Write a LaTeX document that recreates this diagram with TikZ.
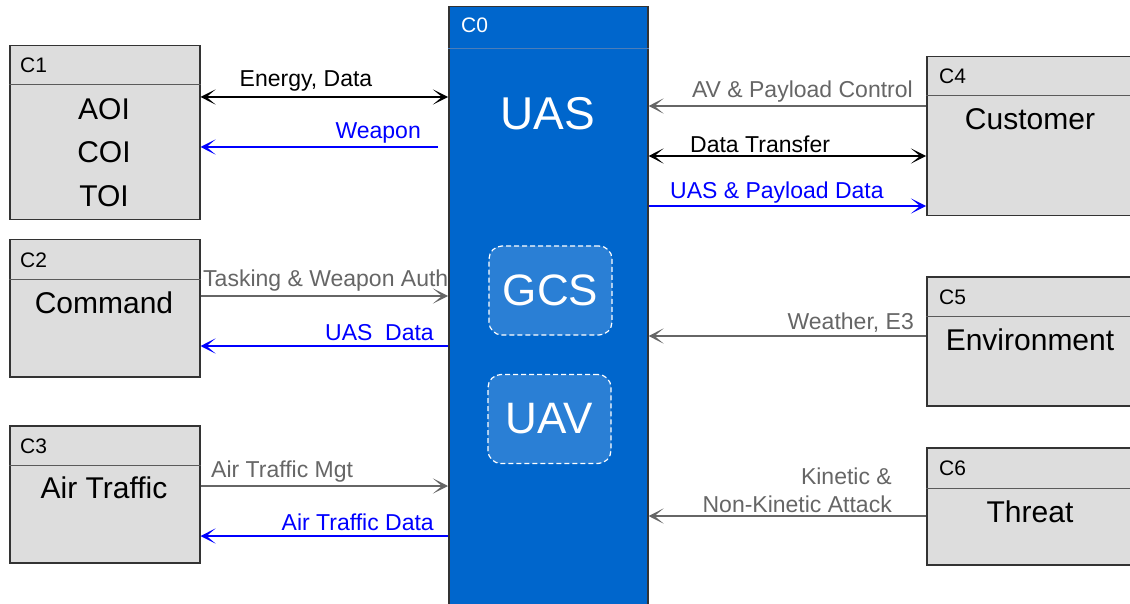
\documentclass[tikz,border=0pt]{standalone}
\usepackage{fontspec}
\setmainfont{Liberation Sans}
\usetikzlibrary{arrows.meta,calc}
\definecolor{uasblue}{RGB}{0,102,204}
\definecolor{gcsblue}{RGB}{42,127,213}
\definecolor{boxgray}{RGB}{221,221,221}
\definecolor{edgegray}{RGB}{51,51,51}
\definecolor{hdrgray}{RGB}{90,90,90}
\definecolor{hdrblue}{RGB}{75,125,185}
\definecolor{flowgray}{RGB}{102,102,102}
\definecolor{flowblue}{RGB}{0,0,255}
\begin{document}
\begin{tikzpicture}[x=1pt,y=-1pt,
  ctx/.style={draw=edgegray, fill=boxgray, line width=1.5pt, rectangle, inner sep=0pt, anchor=north west},
  hdr/.style={draw=hdrgray, line width=1pt},
  cid/.style={font=\fontsize{21}{21}\selectfont, inner sep=0pt, anchor=base west},
  cname/.style={font=\fontsize{30}{30}\selectfont, inner sep=0pt, anchor=base},
  subsys/.style={draw=white, dash pattern=on 5pt off 3pt, fill=gcsblue, rounded corners=13pt,
    line width=1.2pt, minimum width=123pt, minimum height=89pt, text=white,
    font=\fontsize{44}{44}\selectfont, inner sep=0pt},
  flowlbl/.style={font=\fontsize{23}{23}\selectfont, inner sep=0pt},
  flowtip/.tip={Stealth[length=15pt,width=15pt,inset=9pt]},
  blkflow/.style={draw=black, line width=2pt},
  grayflow/.style={draw=flowgray, line width=2pt},
  blueflow/.style={draw=flowblue, line width=2pt}
]
\useasboundingbox (0,0) rectangle (1130,604);
\clip (0,0) rectangle (1130,604);
\fill[white] (0,0) rectangle (1130,604);

% central system
\node[ctx, fill=uasblue, minimum width=199pt, minimum height=620pt] (c0) at (448,6) {};
\draw[draw=hdrblue, line width=1pt] ([yshift=-43pt]c0.north west) -- ([yshift=-43pt]c0.north east);
\node[cid, text=white] (c0id) at (461,33) {C0};
\node[inner sep=0pt, anchor=base, text=white, font=\fontsize{46}{46}\selectfont] (uas) at (548,130) {UAS};
\node[subsys] (gcs) at (550.5,290.5) {GCS};
\node[subsys] (uav) at (549.5,419) {UAV};

% left context boxes
\node[ctx, minimum width=190pt, minimum height=174pt] (c1) at (9,45) {};
\draw[hdr] ([yshift=-40pt]c1.north west) -- ([yshift=-40pt]c1.north east);
\node[cid] (c1id) at (20,73) {C1};
\node[cname] (aoi) at (104,120) {AOI};
\node[cname] (coi) at (104,163) {COI};
\node[cname] (toi) at (104,207) {TOI};

\node[ctx, minimum width=190pt, minimum height=137pt] (c2) at (9,239) {};
\draw[hdr] ([yshift=-40pt]c2.north west) -- ([yshift=-40pt]c2.north east);
\node[cid] (c2id) at (20,267) {C2};
\node[cname] (cmd) at (104,313) {Command};

\node[ctx, minimum width=190pt, minimum height=137pt] (c3) at (9,425) {};
\draw[hdr] ([yshift=-40pt]c3.north west) -- ([yshift=-40pt]c3.north east);
\node[cid] (c3id) at (20,453) {C3};
\node[cname] (atr) at (104,498) {Air Traffic};

% right context boxes
\node[ctx, minimum width=210pt, minimum height=159pt] (c4) at (926,56) {};
\draw[hdr] ([yshift=-40pt]c4.north west) -- ([yshift=-40pt]c4.north east);
\node[cid] (c4id) at (939,84) {C4};
\node[cname] (cust) at (1030,130) {Customer};

\node[ctx, minimum width=210pt, minimum height=129pt] (c5) at (926,276) {};
\draw[hdr] ([yshift=-40pt]c5.north west) -- ([yshift=-40pt]c5.north east);
\node[cid] (c5id) at (939,304) {C5};
\node[cname] (env) at (1030,350) {Environment};

\node[ctx, minimum width=210pt, minimum height=117pt] (c6) at (926,447) {};
\draw[hdr] ([yshift=-41pt]c6.north west) -- ([yshift=-41pt]c6.north east);
\node[cid] (c6id) at (939,475) {C6};
\node[cname] (thr) at (1030,522) {Threat};

% flow levels
\coordinate (yED) at (0,97);
\coordinate (yWP) at (0,147);
\coordinate (yTK) at (0,296);
\coordinate (yUD) at (0,346);
\coordinate (yAM) at (0,486);
\coordinate (yAD) at (0,536);
\coordinate (yAV) at (0,106);
\coordinate (yDT) at (0,156);
\coordinate (yPD) at (0,206);
\coordinate (yWE) at (0,336);
\coordinate (yKA) at (0,516);

% flows left
\draw[blkflow, flowtip-flowtip] (c1.east |- yED) -- (c0.west |- yED);
\draw[blueflow, -flowtip] ($(c0.west |- yWP)+(-10,0)$) -- (c1.east |- yWP);
\draw[grayflow, -flowtip] (c2.east |- yTK) -- (c0.west |- yTK);
\draw[blueflow, -flowtip] (c0.west |- yUD) -- (c2.east |- yUD);
\draw[grayflow, -flowtip] (c3.east |- yAM) -- (c0.west |- yAM);
\draw[blueflow, -flowtip] (c0.west |- yAD) -- (c3.east |- yAD);

% flows right
\draw[grayflow, -flowtip] (c4.west |- yAV) -- (c0.east |- yAV);
\draw[blkflow, flowtip-flowtip] (c0.east |- yDT) -- (c4.west |- yDT);
\draw[blueflow, -flowtip] (c0.east |- yPD) -- (c4.west |- yPD);
\draw[grayflow, -flowtip] (c5.west |- yWE) -- (c0.east |- yWE);
\draw[grayflow, -flowtip] (c6.west |- yKA) -- (c0.east |- yKA);

% flow labels
\node[flowlbl, anchor=base] (lED) at (306,87) {Energy, Data};
\node[flowlbl, anchor=base east, text=flowblue] (lWP) at (421,139) {Weapon};
\node[flowlbl, anchor=base west, text=flowgray] (lTK) at (203,286) {Tasking \& Weapon Auth};
\node[flowlbl, anchor=base east, text=flowblue] (lUD) at (434,340) {UAS\ \ Data};
\node[flowlbl, anchor=base west, text=flowgray] (lAM) at (211,477) {Air Traffic Mgt};
\node[flowlbl, anchor=base east, text=flowblue] (lAD) at (434,530) {Air Traffic Data};
\node[flowlbl, anchor=base east, text=flowgray] (lAV) at (913,98) {AV \& Payload Control};
\node[flowlbl, anchor=base west] (lDT) at (690,153) {Data Transfer};
\node[flowlbl, anchor=base west, text=flowblue] (lPD) at (670,199) {UAS \& Payload Data};
\node[flowlbl, anchor=base east, text=flowgray] (lWE) at (914,329) {Weather, E3};
\node[flowlbl, anchor=base east, text=flowgray] (lKA1) at (892,484) {Kinetic \&};
\node[flowlbl, anchor=base east, text=flowgray] (lKA2) at (892,512) {Non-Kinetic Attack};
\end{tikzpicture}
\end{document}
